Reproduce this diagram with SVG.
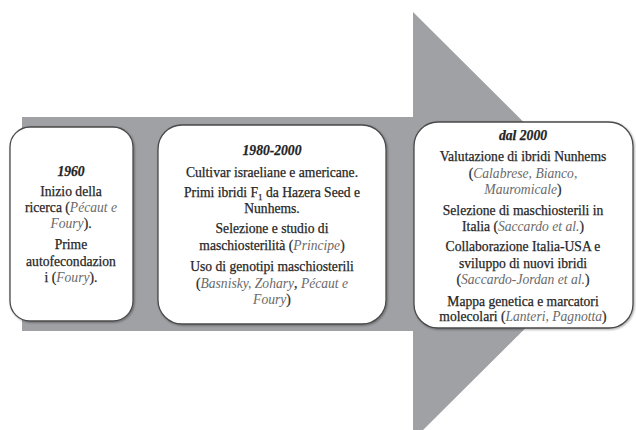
<svg xmlns="http://www.w3.org/2000/svg" width="636" height="430" viewBox="0 0 636 430">
<defs>
<style>
.box{fill:#fff;stroke:#4a4a4a;stroke-width:1.3}
.t{font-family:'Liberation Serif','DejaVu Serif',serif;font-size:13.6px;fill:#262626;stroke:#262626;stroke-width:0.25;text-anchor:middle}
.h{font-weight:bold;font-style:italic;fill:#222}
.i{font-style:italic;fill:#6a6a6a;stroke:none}
</style>
<filter id="sh" x="-10%" y="-10%" width="120%" height="120%">
<feDropShadow dx="1" dy="1" stdDeviation="0.8" flood-color="#000" flood-opacity="0.35"/>
</filter>
</defs>
<rect width="636" height="430" fill="#fff"/>
<g id="connectors">
<polygon points="22,117 413,117 413,12 628,226 413,440 413,331 22,331" fill="#a0a1a5"/>
</g>
<g id="node-1960" font-family="Liberation Serif, serif">
<rect class="box" x="10" y="127" width="123" height="194" rx="20" filter="url(#sh)"/>
<text class="t h" x="71" y="176">1960</text>
<text class="t" x="71" y="196">Inizio della</text>
<text class="t" x="71" y="212">ricerca (<tspan class="i">Pécaut e</tspan></text>
<text class="t" x="71" y="228"><tspan class="i">Foury</tspan>).</text>
<text class="t" x="71" y="249">Prime</text>
<text class="t" x="71" y="266">autofecondazion</text>
<text class="t" x="71" y="282">i (<tspan class="i">Foury</tspan>).</text>
</g>
<g id="node-1980-2000" font-family="Liberation Serif, serif">
<rect class="box" x="158" y="125" width="228" height="199" rx="24" filter="url(#sh)"/>
<text class="t h" x="272" y="155">1980-2000</text>
<text class="t" x="272" y="177">Cultivar israeliane e americane.</text>
<text class="t" x="272" y="197">Primi ibridi F<tspan font-size="9" baseline-shift="-3">1</tspan> da Hazera Seed e</text>
<text class="t" x="272" y="213">Nunhems.</text>
<text class="t" x="272" y="233">Selezione e studio di</text>
<text class="t" x="272" y="250">maschiosterilità (<tspan class="i">Principe</tspan>)</text>
<text class="t" x="272" y="271">Uso di genotipi maschiosterili</text>
<text class="t" x="272" y="288">(<tspan class="i">Basnisky, Zohary</tspan>, <tspan class="i">Pécaut e</tspan></text>
<text class="t" x="272" y="304"><tspan class="i">Foury</tspan>)</text>
</g>
<g id="node-dal-2000" font-family="Liberation Serif, serif">
<rect class="box" x="414" y="122" width="219" height="206" rx="24" filter="url(#sh)"/>
<text class="t h" x="523" y="140">dal 2000</text>
<text class="t" x="523" y="161">Valutazione di ibridi Nunhems</text>
<text class="t" x="523" y="178">(<tspan class="i">Calabrese, Bianco,</tspan></text>
<text class="t" x="523" y="194"><tspan class="i">Mauromicale</tspan>)</text>
<text class="t" x="523" y="215">Selezione di maschiosterili in</text>
<text class="t" x="523" y="231">Italia (<tspan class="i">Saccardo et al.</tspan>)</text>
<text class="t" x="523" y="251">Collaborazione Italia-USA e</text>
<text class="t" x="523" y="268">sviluppo di nuovi ibridi</text>
<text class="t" x="523" y="284">(<tspan class="i">Saccardo-Jordan et al.</tspan>)</text>
<text class="t" x="523" y="306">Mappa genetica e marcatori</text>
<text class="t" x="523" y="321">molecolari (<tspan class="i">Lanteri, Pagnotta</tspan>)</text>
</g>
</svg>
